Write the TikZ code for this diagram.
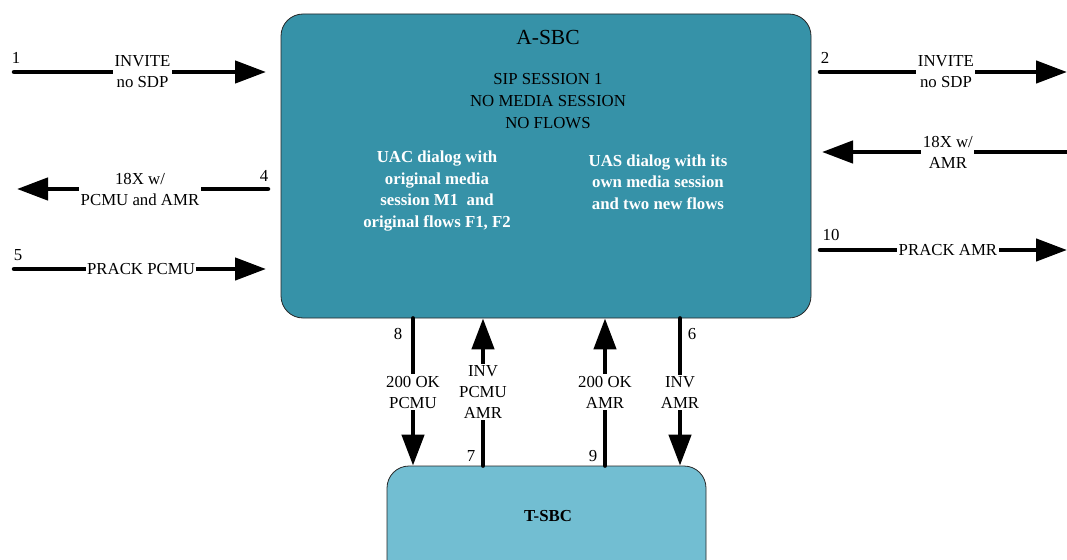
\documentclass[tikz,border=0pt]{standalone}
\usepackage{fontspec}
\setmainfont{Liberation Serif}
\usetikzlibrary{arrows.meta,calc}
\definecolor{asbcfill}{RGB}{54,146,168}
\definecolor{tsbcfill}{RGB}{114,190,210}
\tikzset{
  arr/.style={line width=4.5pt, line cap=round, -{Triangle[length=31pt,width=22pt]}},
  lbl/.style={fill=white, inner sep=1.5pt, align=center, font=\fontsize{16.8}{21}\selectfont},
  num/.style={inner sep=0pt, font=\fontsize{16.8}{20}\selectfont},
  wtxt/.style={text=white, align=center, font=\bfseries\fontsize{16.8}{21.4}\selectfont},
  btxt/.style={align=center, font=\fontsize{16.8}{22}\selectfont},
  sbcbox/.style={draw=black!85, line width=0.8pt, rounded corners=22pt, inner sep=0pt},
}
\begin{document}
\begin{tikzpicture}[x=1pt,y=-1pt]
\useasboundingbox (0,0) rectangle (1067,559);
\clip (0,0) rectangle (1067,559);
% boxes
\node[sbcbox, fill=asbcfill, minimum width=530pt, minimum height=304pt] (asbc) at (546,166) {};
\node[sbcbox, fill=tsbcfill, minimum width=319pt, minimum height=140pt] (tsbc) at (546.5,536) {};
% texts in boxes
\node[font=\fontsize{21.5}{24}\selectfont] (title) at (548,37) {A-SBC};
\node[btxt] (sip) at (548,101) {SIP SESSION 1\\NO MEDIA SESSION\\NO FLOWS};
\node[wtxt] (uac) at (437,191) {UAC dialog with\\original media\\session M1\ \ and\\original flows F1, F2};
\node[wtxt] (uas) at (658,182) {UAS dialog with its\\own media session\\and two new flows};
\node[font=\bfseries\fontsize{16.8}{21}\selectfont] (tsbclbl) at (548,516) {T-SBC};
% left arrows
\coordinate (a1s) at (14,72);  \coordinate (a1e) at (266,72);
\coordinate (a4s) at (268,189); \coordinate (a4e) at (17,189);
\coordinate (a5s) at (14,269); \coordinate (a5e) at (266,269);
\draw[arr] (a1s) -- node[lbl, pos=0.51] (l1) {INVITE\\no SDP} (a1e);
\draw[arr] (a4s) -- node[lbl, pos=0.51] (l4) {18X w/\\PCMU and AMR} (a4e);
\draw[arr] (a5s) -- node[lbl, pos=0.504] (l5) {PRACK PCMU} (a5e);
\node[num] (n1) at (16,58) {1};
\node[num] (n4) at (264,176) {4};
\node[num] (n5) at (18,255) {5};
% right arrows
\coordinate (a2s) at (820,72);  \coordinate (a2e) at (1067,72);
\coordinate (a3s) at (1067,152); \coordinate (a3e) at (822,152);
\coordinate (a10s) at (820,250); \coordinate (a10e) at (1067,250);
\draw[arr] (a2s) -- node[lbl, pos=0.51] (l2) {INVITE\\no SDP} (a2e);
\draw[arr] (a3s) -- node[lbl, pos=0.486] (l3) {18X w/\\AMR} (a3e);
\draw[arr] (a10s) -- node[lbl, pos=0.518] (l10) {PRACK AMR} (a10e);
\node[num] (n2) at (825,58) {2};
\node[num] (n10) at (831,235) {10};
% vertical arrows
\coordinate (x8) at (413,0);
\coordinate (x7) at (483,0);
\coordinate (x9) at (605,0);
\coordinate (x6) at (680,0);
\draw[arr] (x8 |- asbc.south) -- node[lbl] (l8) {200 OK\\PCMU} (x8 |- tsbc.north);
\draw[arr] (x7 |- tsbc.north) -- node[lbl] (l7) {INV\\PCMU\\AMR} (x7 |- asbc.south);
\draw[arr] (x9 |- tsbc.north) -- node[lbl] (l9) {200 OK\\AMR} (x9 |- asbc.south);
\draw[arr] (x6 |- asbc.south) -- node[lbl] (l6) {INV\\AMR} (x6 |- tsbc.north);
\node[num] (n8) at (398,334) {8};
\node[num] (n6) at (692,334) {6};
\node[num] (n7) at (471,456) {7};
\node[num] (n9) at (593,456) {9};
\end{tikzpicture}
\end{document}
